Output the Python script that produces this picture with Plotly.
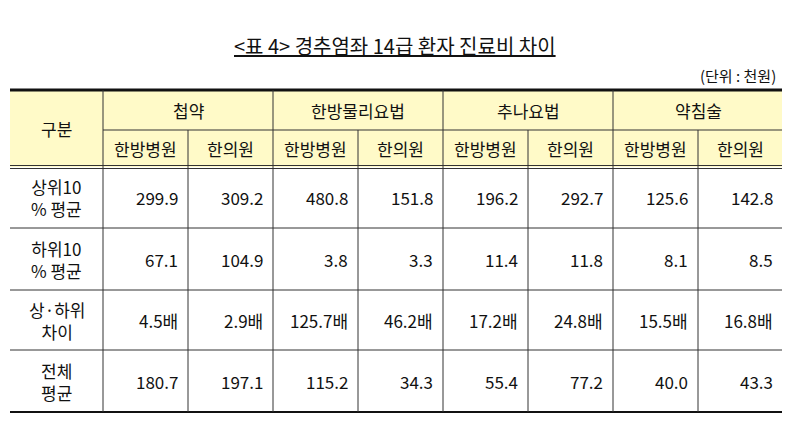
import plotly.graph_objects as go

title = "<표 4> 경추염좌 14급 환자 진료비 차이"
unit = "(단위 : 천원)"
groups = ["첩약", "한방물리요법", "추나요법", "약침술"]
subs = ["한방병원", "한의원"]
row_labels = ["상위10<br>% 평균", "하위10<br>% 평균", "상·하위<br>차이", "전체<br>평균"]
top10 = ["299.9", "309.2", "480.8", "151.8", "196.2", "292.7", "125.6", "142.8"]
bottom10 = ["67.1", "104.9", "3.8", "3.3", "11.4", "11.8", "8.1", "8.5"]
ratio = ["4.5배", "2.9배", "125.7배", "46.2배", "17.2배", "24.8배", "15.5배", "16.8배"]
total = ["180.7", "197.1", "115.2", "34.3", "55.4", "77.2", "40.0", "43.3"]
rows = [top10, bottom10, ratio, total]

W, H = 790, 436
off = 8  # page body margin
x0, xl, cw = 10, 103, 85
xs = [xl + i * cw for i in range(9)]
y_top, y_h1, y_h2 = 90, 130, 167
row_edges = [167, 228, 290, 350, 412]
font = "Noto Sans CJK KR, Gulim, sans-serif"
fs = 17
hdr = "#FFFAC8"

shapes, ann = [], []
def line(xa, ya, xb, yb, w=1, c="#333"):
    shapes.append(dict(type="line", x0=xa, y0=ya, x1=xb, y1=yb, line=dict(color=c, width=w)))
def text(x, y, t, anchor="center", size=fs):
    ann.append(dict(x=x, y=y, text=t, showarrow=False, xanchor=anchor, yanchor="middle",
                    font=dict(family=font, size=size, color="#111")))

shapes.append(dict(type="rect", x0=x0, y0=y_top, x1=xs[-1], y1=y_h2, fillcolor=hdr, line=dict(width=0), layer="below"))
line(x0, y_top, xs[-1], y_top, 3, "#111")
line(x0, row_edges[-1], xs[-1], row_edges[-1], 2, "#111")
line(xl, y_h1, xs[-1], y_h1)
line(x0, y_h2 - 1.5, xs[-1], y_h2 - 1.5)
line(x0, y_h2 + 1.5, xs[-1], y_h2 + 1.5)
for e in row_edges[1:-1]:
    line(x0, e, xs[-1], e)
for i, xv in enumerate(xs):
    if i % 2 == 0:
        line(xv, y_top, xv, row_edges[-1])
    else:
        line(xv, y_h1, xv, row_edges[-1])

ann.append(dict(x=W / 2, y=45, text="<u>" + title.replace("<", "&lt;").replace(">", "&gt;") + "</u>", showarrow=False,
                yanchor="middle", font=dict(family=font, size=20, color="#111")))
text(778, 75, unit, "right", 15)
text((x0 + xl) / 2, (y_top + y_h2) / 2, "구분")
for g, name in enumerate(groups):
    text((xs[2 * g] + xs[2 * g + 2]) / 2, (y_top + y_h1) / 2, name)
for c in range(8):
    text((xs[c] + xs[c + 1]) / 2, (y_h1 + y_h2) / 2, subs[c % 2])
for r, vals in enumerate(rows):
    ym = (row_edges[r] + row_edges[r + 1]) / 2
    text((x0 + xl) / 2, ym, row_labels[r])
    for c, v in enumerate(vals):
        text(xs[c + 1] - 8, ym, v, "right")

fig = go.Figure()
fig.update_layout(width=W, height=H, margin=dict(l=0, r=0, t=0, b=0),
                  paper_bgcolor="white", plot_bgcolor="white",
                  xaxis=dict(range=[off, W + off], visible=False),
                  yaxis=dict(range=[H + off, off], visible=False),
                  shapes=shapes, annotations=ann, showlegend=False)
fig.write_html("out.html")
